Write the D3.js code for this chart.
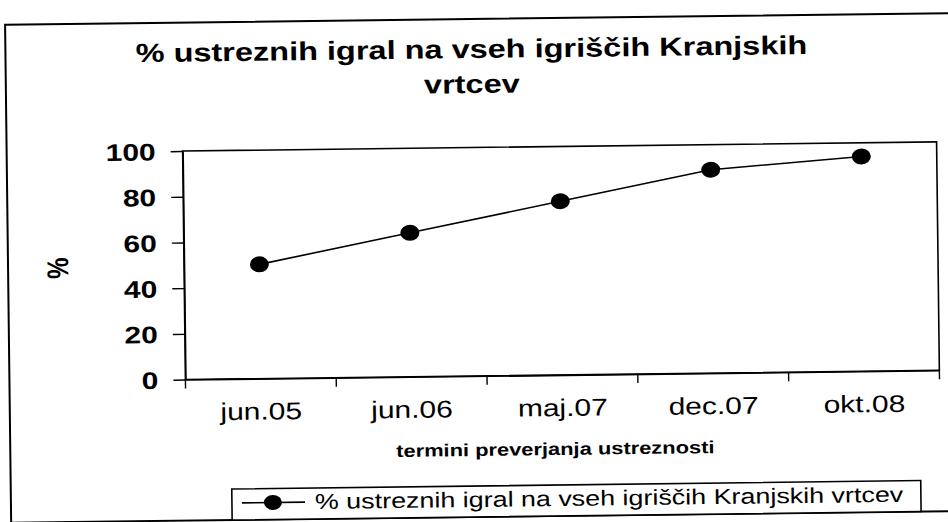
<!DOCTYPE html>
<html>
<head>
<meta charset="utf-8">
<script src="https://cdn.jsdelivr.net/npm/d3@7"></script>
<style>
  html, body { margin: 0; padding: 0; background: #fff; }
  svg { display: block; }
  text { font-family: "Liberation Sans", Arial, sans-serif; fill: #000; }
</style>
</head>
<body>
<div id="chart"></div>
<script>
// data
const categories = ['jun.05', 'jun.06', 'maj.07', 'dec.07', 'okt.08'];
const values = [50, 63, 76, 89, 94];
const yTicks = [0, 20, 40, 60, 80, 100];
const titleLines = ['% ustreznih igral na vseh igriščih Kranjskih', 'vrtcev'];
const xTitle = 'termini preverjanja ustreznosti';
const yTitle = '%';
const seriesName = '% ustreznih igral na vseh igriščih Kranjskih vrtcev';

const W = 948, H = 522;
const SX = 1.25;          // scan is stretched horizontally
const TILT = -0.7;        // and slightly rotated
const plot = { left: 184, right: 938, top: 147.5, bottom: 376 };

const svg = d3.select('#chart').append('svg')
  .attr('width', W).attr('height', H);

const root = svg.append('g')
  .attr('transform', `rotate(${TILT},${W / 2},${H / 2})`);

// stretched text helper
function label(g, x, y, str, size, weight, anchor, extra = '') {
  return g.append('text')
    .attr('transform', `translate(${x},${y}) scale(${SX},1)${extra}`)
    .attr('text-anchor', anchor)
    .style('font-size', size + 'px')
    .style('font-weight', weight)
    .text(str);
}

// outer chart frame (runs off the right/bottom of the scan)
root.append('rect')
  .attr('x', 8).attr('y', 19)
  .attr('width', 1000).attr('height', 498)
  .attr('fill', 'none').attr('stroke', '#000').attr('stroke-width', 2);

// title
label(root, 474, 58, titleLines[0], 26, 'bold', 'middle');
label(root, 474, 93, titleLines[1], 26, 'bold', 'middle');

const x = d3.scaleBand().domain(categories).range([plot.left, plot.right]).padding(0);
const y = d3.scaleLinear().domain([0, 100]).range([plot.bottom, plot.top]);

// plot area border
root.append('rect')
  .attr('x', plot.left).attr('y', plot.top)
  .attr('width', plot.right - plot.left).attr('height', plot.bottom - plot.top)
  .attr('fill', 'none').attr('stroke', '#000').attr('stroke-width', 1.6);

// y axis
const yAxis = root.append('g')
  .attr('transform', `translate(${plot.left},0)`)
  .call(d3.axisLeft(y).tickValues(yTicks).tickSize(12).tickSizeOuter(0));
yAxis.select('.domain').attr('stroke-width', 1.6);
yAxis.selectAll('.tick line').attr('stroke-width', 1.4);
yAxis.selectAll('.tick text')
  .attr('x', null).attr('dy', null)
  .attr('transform', `translate(-27,8.5) scale(${SX},1)`)
  .style('font-size', '24px').style('font-weight', 'bold')
  .style('font-family', '"Liberation Sans", Arial, sans-serif');

// x axis: labels at category centres, tick marks between categories
const xAxis = root.append('g')
  .attr('transform', `translate(0,${plot.bottom})`)
  .call(d3.axisBottom(x).tickSize(0).tickSizeOuter(0));
xAxis.select('.domain').attr('stroke-width', 1.6);
xAxis.selectAll('.tick text')
  .attr('y', null).attr('dy', null)
  .attr('transform', `translate(0,41) scale(${SX},1)`)
  .style('font-size', '24px')
  .style('font-family', '"Liberation Sans", Arial, sans-serif');

const bounds = categories.map(c => x(c)).concat([x.range()[1]]);
root.append('g').selectAll('line')
  .data(bounds)
  .join('line')
  .attr('x1', d => d).attr('x2', d => d)
  .attr('y1', plot.bottom).attr('y2', plot.bottom + 9)
  .attr('stroke', '#000').attr('stroke-width', 1.4);

// axis titles
label(root, 553, 456, xTitle, 17.5, 'bold', 'middle');
label(root, 68, 263, yTitle, 24, 'bold', 'middle', ' rotate(-90)');

// series
const cx = d => x(d.cat) + x.bandwidth() / 2;
const pts = categories.map((c, i) => ({ cat: c, v: values[i] }));
root.append('path')
  .datum(pts)
  .attr('fill', 'none').attr('stroke', '#000').attr('stroke-width', 1.6)
  .attr('d', d3.line().x(cx).y(d => y(d.v)));
root.append('g').selectAll('ellipse')
  .data(pts)
  .join('ellipse')
  .attr('cx', cx).attr('cy', d => y(d.v))
  .attr('rx', 9.5).attr('ry', 8)
  .attr('fill', '#000');

// legend
const leg = root.append('g');
leg.append('rect')
  .attr('x', 229).attr('y', 486).attr('width', 689).attr('height', 31)
  .attr('fill', '#fff').attr('stroke', '#000').attr('stroke-width', 1.6);
leg.append('line')
  .attr('x1', 239).attr('x2', 302).attr('y1', 500).attr('y2', 500)
  .attr('stroke', '#000').attr('stroke-width', 1.6);
leg.append('ellipse')
  .attr('cx', 270).attr('cy', 500).attr('rx', 9).attr('ry', 7.5)
  .attr('fill', '#000');
label(leg, 312, 507, seriesName, 21.5, 'normal', 'start');
</script>
</body>
</html>
